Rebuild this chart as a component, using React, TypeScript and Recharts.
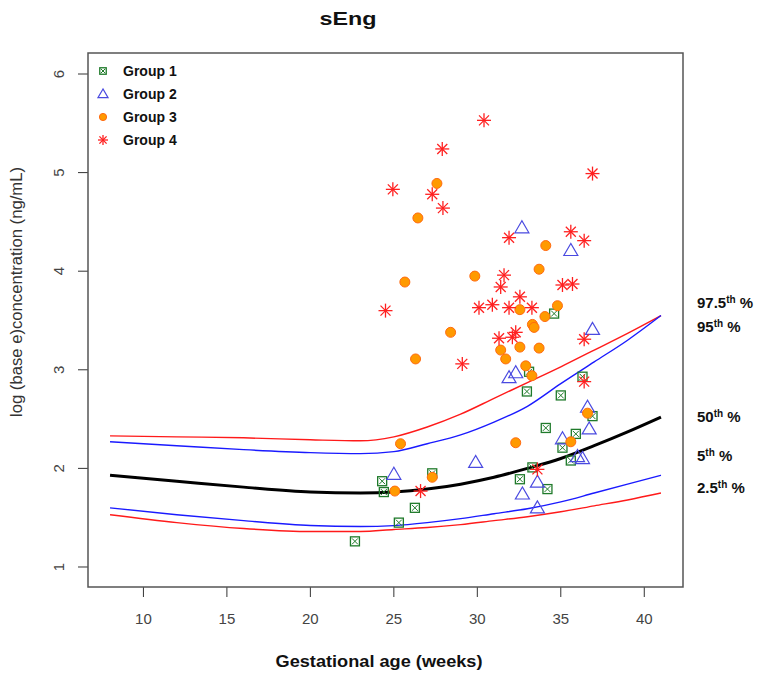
import React from "react";
import { ComposedChart, Line, Scatter, XAxis, YAxis } from "recharts";

const FONT = "'Liberation Sans', Arial, Helvetica, sans-serif";

// Percentile curves
const curveWeeks = [8, 12, 16, 20, 23, 25, 27, 29, 31, 33, 35, 37, 39, 41];
const p975 = [2.33, 2.32, 2.31, 2.29, 2.28, 2.32, 2.42, 2.55, 2.71, 2.87, 3.03, 3.2, 3.37, 3.55];
const p95 = [2.27, 2.23, 2.19, 2.16, 2.15, 2.17, 2.25, 2.34, 2.47, 2.63, 2.86, 3.08, 3.3, 3.55];
const p50 = [1.93, 1.87, 1.81, 1.76, 1.75, 1.76, 1.79, 1.84, 1.91, 2.0, 2.1, 2.23, 2.37, 2.52];
const p5 = [1.6, 1.53, 1.47, 1.42, 1.41, 1.42, 1.45, 1.49, 1.54, 1.59, 1.66, 1.75, 1.84, 1.93];
const p25 = [1.53, 1.45, 1.39, 1.36, 1.36, 1.38, 1.4, 1.43, 1.47, 1.51, 1.56, 1.62, 1.68, 1.75];

// Groups
const g1x = [32.97, 35.0, 36.9, 34.1, 35.9, 35.1, 35.6, 33.3, 32.55, 34.2, 27.3, 24.3, 24.4, 26.26, 25.3, 22.67, 34.6, 36.3, 33.1];
const g1y = [2.78, 2.74, 2.53, 2.41, 2.35, 2.21, 2.08, 2.01, 1.89, 1.79, 1.95, 1.87, 1.76, 1.6, 1.45, 1.26, 3.57, 2.93, 2.98];

const g2x = [32.67, 35.6, 36.9, 32.3, 31.9, 36.6, 36.7, 35.1, 36.0, 36.3, 29.9, 33.6, 32.7, 33.6, 25.0];
const g2y = [4.44, 4.21, 3.41, 2.97, 2.92, 2.62, 2.4, 2.3, 2.12, 2.1, 2.06, 1.86, 1.74, 1.6, 1.94];

const g3x = [27.58, 26.44, 25.66, 29.85, 34.1, 33.7, 28.4, 32.55, 34.8, 34.05, 33.3, 33.4, 26.3, 31.4, 31.7, 32.55, 33.7, 32.9, 33.27, 36.6, 35.6, 32.3, 25.4, 27.3, 25.06];
const g3y = [4.89, 4.54, 3.89, 3.95, 4.26, 4.02, 3.38, 3.61, 3.65, 3.54, 3.46, 3.43, 3.11, 3.2, 3.11, 3.23, 3.22, 3.04, 2.94, 2.56, 2.27, 2.26, 2.25, 1.91, 1.77];

const g4x = [27.9, 24.94, 27.3, 27.94, 30.4, 24.5, 29.1, 26.6, 36.9, 31.9, 35.6, 36.4, 31.6, 31.4, 35.1, 35.7, 32.55, 30.1, 30.9, 31.9, 33.27, 32.3, 31.3, 32.1, 36.4, 36.4, 33.6];
const g4y = [5.24, 4.83, 4.78, 4.64, 5.53, 3.6, 3.06, 1.77, 4.99, 4.34, 4.4, 4.31, 3.96, 3.84, 3.86, 3.87, 3.74, 3.63, 3.66, 3.63, 3.63, 3.38, 3.32, 3.33, 3.31, 2.88, 1.99];

const xTicks = [10, 15, 20, 25, 30, 35, 40];
const yTicks = [1, 2, 3, 4, 5, 6];
const groupNames = ["Group 1", "Group 2", "Group 3", "Group 4"];

const toCurve = (ys: number[]) => curveWeeks.map((x, i) => ({ x, y: ys[i] }));
const toPts = (xs: number[], ys: number[]) => xs.map((x, i) => ({ x, y: ys[i] }));

const GREEN = "#1f7a2a";
const BLUE = "#4a4ae0";
const ORANGE = "#ff9a00";
const RED = "#ff2020";

const BoxX = ({ cx, cy, s = 1 }: any) => (
  <g>
    <rect x={cx - 4.5 * s} y={cy - 4.5 * s} width={9 * s} height={9 * s} fill="none" stroke={GREEN} strokeWidth={1.3} />
    <line x1={cx - 3 * s} y1={cy - 3 * s} x2={cx + 3 * s} y2={cy + 3 * s} stroke={GREEN} strokeWidth={1} />
    <line x1={cx - 3 * s} y1={cy + 3 * s} x2={cx + 3 * s} y2={cy - 3 * s} stroke={GREEN} strokeWidth={1} />
  </g>
);
const Tri = ({ cx, cy, s = 1 }: any) => (
  <polygon
    points={`${cx},${cy - 7 * s} ${cx - 7 * s},${cy + 5 * s} ${cx + 7 * s},${cy + 5 * s}`}
    fill="none"
    stroke={BLUE}
    strokeWidth={1.2}
  />
);
const Dot = ({ cx, cy, s = 1 }: any) => <circle cx={cx} cy={cy} r={5 * s} fill={ORANGE} stroke="#ff6a10" strokeWidth={1} />;
const Star = ({ cx, cy, s = 1 }: any) => (
  <g stroke={RED} strokeWidth={1.3}>
    <line x1={cx - 7 * s} y1={cy} x2={cx + 7 * s} y2={cy} />
    <line x1={cx} y1={cy - 7 * s} x2={cx} y2={cy + 7 * s} />
    <line x1={cx - 5 * s} y1={cy - 5 * s} x2={cx + 5 * s} y2={cy + 5 * s} />
    <line x1={cx - 5 * s} y1={cy + 5 * s} x2={cx + 5 * s} y2={cy - 5 * s} />
  </g>
);

const XTick = ({ x, payload }: any) => (
  <text x={x} y={624} textAnchor="middle" fontSize={15} fill="#444" fontFamily={FONT}>
    {payload.value}
  </text>
);
const YTick = ({ y, payload }: any) => (
  <text
    x={64}
    y={y}
    textAnchor="middle"
    fontSize={15}
    fill="#444"
    fontFamily={FONT}
    transform={`rotate(-90, 64, ${y})`}
  >
    {payload.value}
  </text>
);

const pctLabels = [
  { main: "97.5", y: 308 },
  { main: "95", y: 332 },
  { main: "50", y: 422 },
  { main: "5", y: 461 },
  { main: "2.5", y: 493 },
];

export default function App() {
  const shapes = [BoxX, Tri, Dot, Star];
  const legendY = [71, 94, 117, 140];
  return (
    <div style={{ position: "absolute", left: 0, top: 0, width: 762, height: 677, background: "#fff" }}>
      <ComposedChart
        width={762}
        height={677}
        margin={{ top: 53, right: 79, left: 0, bottom: 0 }}
      >
        <XAxis
          type="number"
          dataKey="x"
          domain={[6.68, 42.32]}
          ticks={xTicks}
          allowDataOverflow
          axisLine={false}
          tickSize={10}
          tickLine={{ stroke: "#333" }}
          tick={<XTick />}
          height={90}
        />
        <YAxis
          type="number"
          dataKey="y"
          domain={[0.797, 6.213]}
          ticks={yTicks}
          allowDataOverflow
          axisLine={false}
          tickSize={10}
          tickLine={{ stroke: "#333" }}
          tick={<YTick />}
          width={88}
        />
        <Line data={toCurve(p975)} dataKey="y" type="monotone" stroke="#ff1a1a" strokeWidth={1.4} dot={false} isAnimationActive={false} />
        <Line data={toCurve(p95)} dataKey="y" type="monotone" stroke="#1a1aff" strokeWidth={1.4} dot={false} isAnimationActive={false} />
        <Line data={toCurve(p50)} dataKey="y" type="monotone" stroke="#000" strokeWidth={3} dot={false} isAnimationActive={false} />
        <Line data={toCurve(p5)} dataKey="y" type="monotone" stroke="#1a1aff" strokeWidth={1.4} dot={false} isAnimationActive={false} />
        <Line data={toCurve(p25)} dataKey="y" type="monotone" stroke="#ff1a1a" strokeWidth={1.4} dot={false} isAnimationActive={false} />
        <Scatter data={toPts(g1x, g1y)} dataKey="y" shape={BoxX} isAnimationActive={false} />
        <Scatter data={toPts(g2x, g2y)} dataKey="y" shape={Tri} isAnimationActive={false} />
        <Scatter data={toPts(g3x, g3y)} dataKey="y" shape={Dot} isAnimationActive={false} />
        <Scatter data={toPts(g4x, g4y)} dataKey="y" shape={Star} isAnimationActive={false} />
      </ComposedChart>
      <svg
        width={762}
        height={677}
        style={{ position: "absolute", left: 0, top: 0, pointerEvents: "none" }}
        fontFamily={FONT}
      >
        <rect x={88} y={53} width={595} height={534} fill="none" stroke="#555" strokeWidth={1.5} />
        <text x={348} y={25} textAnchor="middle" fontSize={19} fontWeight="bold" fill="#111" textLength={57} lengthAdjust="spacingAndGlyphs">
          sEng
        </text>
        <text x={379} y={667} textAnchor="middle" fontSize={17} fontWeight="bold" fill="#111" textLength={207} lengthAdjust="spacingAndGlyphs">
          Gestational age (weeks)
        </text>
        <text
          x={22}
          y={292}
          textAnchor="middle"
          fontSize={16}
          fill="#333"
          transform="rotate(-90, 22, 292)"
          textLength={250}
          lengthAdjust="spacingAndGlyphs"
        >
          log (base e)concentration (ng/mL)
        </text>
        {groupNames.map((name, i) => {
          const S = shapes[i];
          return (
            <g key={name}>
              <S cx={103} cy={legendY[i]} s={0.72} />
              <text x={123} y={legendY[i] + 5} fontSize={14} fontWeight="bold" fill="#111">
                {name}
              </text>
            </g>
          );
        })}
        {pctLabels.map((p) => (
          <text key={p.main} x={697} y={p.y} fontSize={15} fontWeight="bold" fill="#111">
            {p.main}
            <tspan fontSize={10} dy={-5}>th</tspan>
            <tspan dy={5}> %</tspan>
          </text>
        ))}
      </svg>
    </div>
  );
}
